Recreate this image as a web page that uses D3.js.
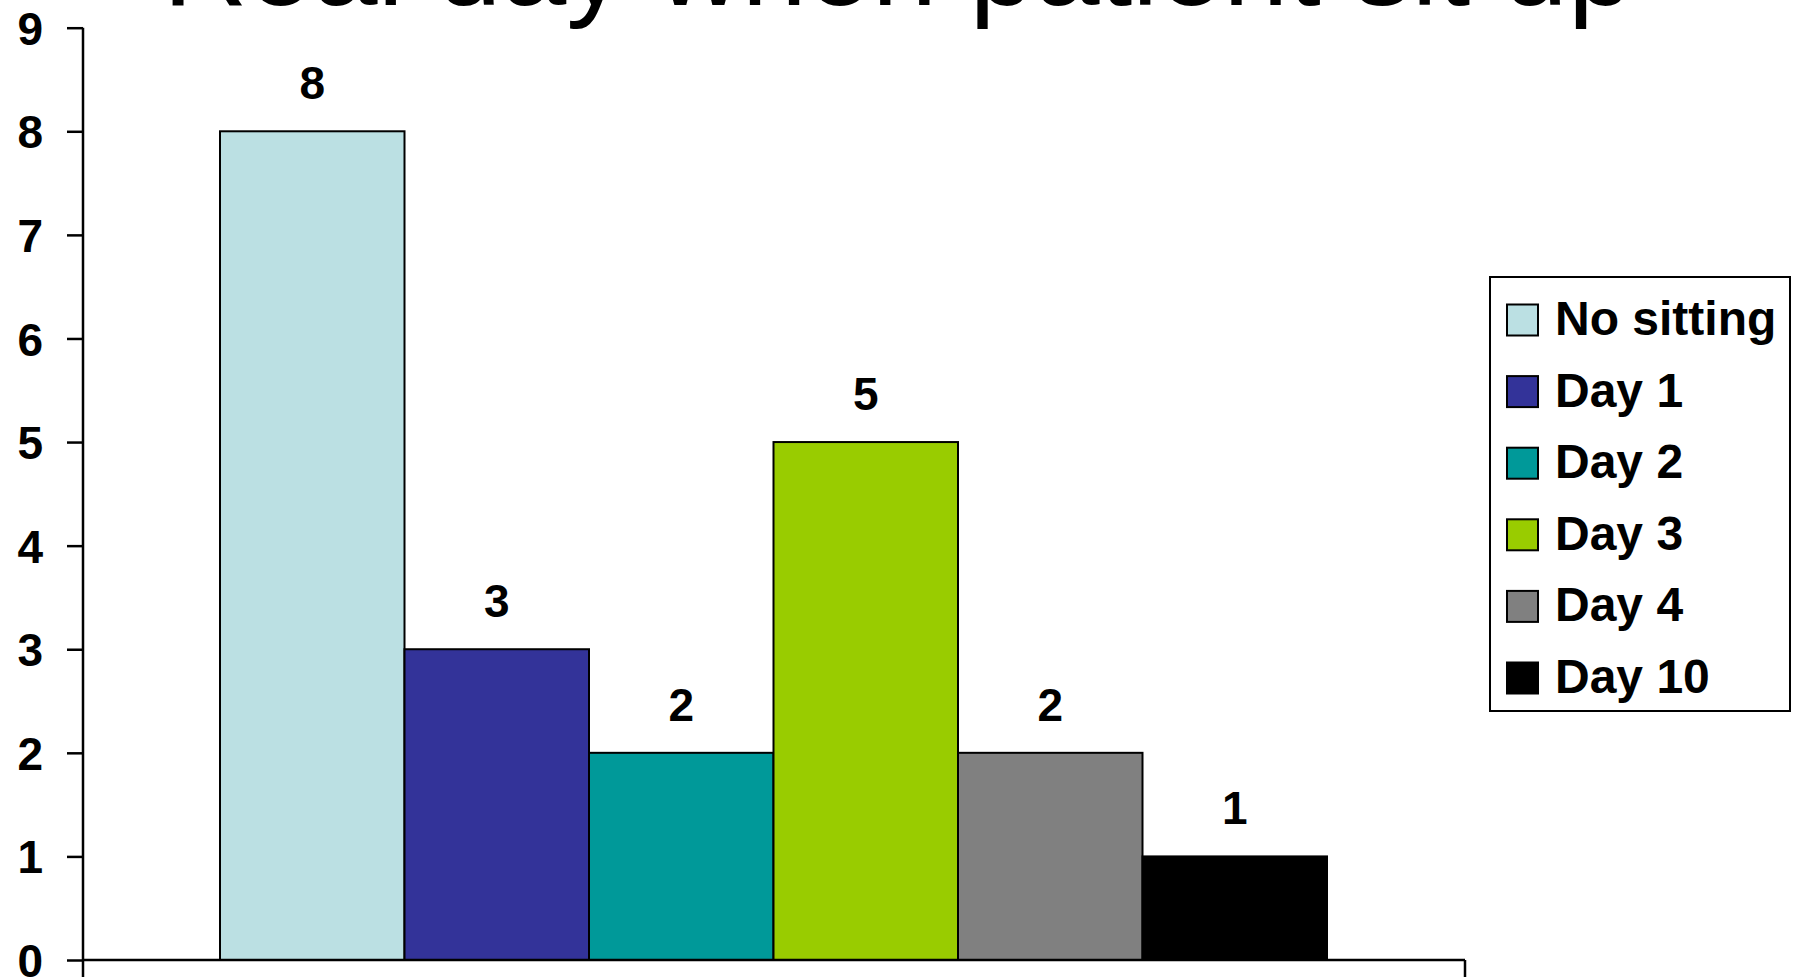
<!DOCTYPE html>
<html>
<head>
<meta charset="utf-8">
<script src="https://cdn.jsdelivr.net/npm/d3@7"></script>
<style>
  html, body { margin: 0; padding: 0; background: #fff; }
  svg { display: block; font-family: Arial, "Liberation Sans", sans-serif; }
</style>
</head>
<body>
<div class="chart"></div>
<script>
// datos
var titulo = "Real day when patient sit up";
var series = ["No sitting", "Day 1", "Day 2", "Day 3", "Day 4", "Day 10"];
var valores = [8, 3, 2, 5, 2, 1];
var colores = ["#BBE0E3", "#333399", "#009999", "#99CC00", "#808080", "#000000"];
var ticksY = [0, 1, 2, 3, 4, 5, 6, 7, 8, 9];

var width = 1797, height = 977;

var svg = d3.select(".chart").append("svg")
    .attr("width", width)
    .attr("height", height);

// escalas
var y = d3.scaleLinear().domain([0, 9]).range([960, 27.7]);
var x = d3.scaleBand().domain(series).range([220, 1327]).paddingInner(0);
var ejeX = { x1: 83, x2: 1465 };

// titulo (cortado arriba como en el original)
svg.append("text")
    .attr("x", 898)
    .attr("y", 5)
    .attr("text-anchor", "middle")
    .attr("font-size", 117)
    .attr("fill", "#000")
    .text(titulo);

// barras
svg.selectAll("rect.barra")
    .data(valores)
    .enter().append("rect")
    .attr("class", "barra")
    .attr("x", function(d, i) { return x(series[i]); })
    .attr("y", function(d) { return y(d); })
    .attr("width", x.bandwidth())
    .attr("height", function(d) { return y(0) - y(d); })
    .attr("fill", function(d, i) { return colores[i]; })
    .attr("stroke", "#000")
    .attr("stroke-width", 2);

// etiquetas de valores
svg.selectAll("text.valor")
    .data(valores)
    .enter().append("text")
    .attr("class", "valor")
    .attr("x", function(d, i) { return x(series[i]) + x.bandwidth() / 2; })
    .attr("y", function(d) { return y(d) - 32; })
    .attr("text-anchor", "middle")
    .attr("font-size", 46)
    .attr("font-weight", "bold")
    .text(function(d) { return d; });

// eje Y
var gy = svg.append("g")
    .attr("transform", "translate(83,0)")
    .call(d3.axisLeft(y).tickValues(ticksY).tickSize(16).tickPadding(24).tickFormat(d3.format("d")));
gy.select(".domain").remove();
gy.selectAll(".tick line").attr("stroke", "#000").attr("stroke-width", 2.5);
gy.selectAll(".tick text")
    .attr("font-size", 46)
    .attr("font-weight", "bold")
    .attr("font-family", "Arial, 'Liberation Sans', sans-serif")
    .attr("fill", "#000")
    .attr("dy", "0.36em");

svg.append("line")
    .attr("x1", 83).attr("x2", 83)
    .attr("y1", y(9)).attr("y2", y(0) + 18)
    .attr("stroke", "#000").attr("stroke-width", 2.5);

// eje X
svg.append("line")
    .attr("x1", ejeX.x1).attr("x2", ejeX.x2)
    .attr("y1", y(0)).attr("y2", y(0))
    .attr("stroke", "#000").attr("stroke-width", 2.5);
svg.append("line")
    .attr("x1", ejeX.x2).attr("x2", ejeX.x2)
    .attr("y1", y(0)).attr("y2", y(0) + 18)
    .attr("stroke", "#000").attr("stroke-width", 2.5);

// leyenda
var leyenda = svg.append("g");
leyenda.append("rect")
    .attr("x", 1490).attr("y", 277)
    .attr("width", 300).attr("height", 434)
    .attr("fill", "#fff")
    .attr("stroke", "#000")
    .attr("stroke-width", 2);

var filas = leyenda.selectAll("g.fila")
    .data(series)
    .enter().append("g")
    .attr("class", "fila")
    .attr("transform", function(d, i) { return "translate(0," + (320 + i * 71.6) + ")"; });

filas.append("rect")
    .attr("x", 1507).attr("y", -15.5)
    .attr("width", 31).attr("height", 31)
    .attr("fill", function(d, i) { return colores[i]; })
    .attr("stroke", "#000")
    .attr("stroke-width", 2);

filas.append("text")
    .attr("x", 1555)
    .attr("y", 15)
    .attr("font-size", 48)
    .attr("font-weight", "bold")
    .text(function(d) { return d; });
</script>
</body>
</html>
